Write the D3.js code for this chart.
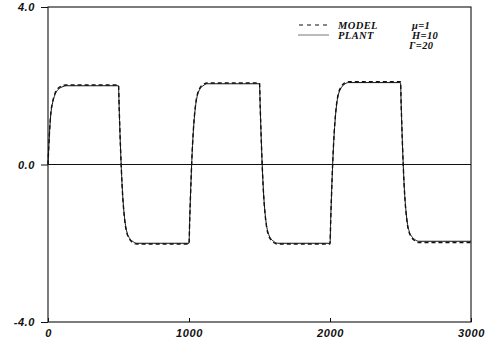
<!DOCTYPE html>
<html>
<head>
<meta charset="utf-8">
<script src="https://cdn.jsdelivr.net/npm/d3@7"></script>
<style>
  html, body { margin: 0; padding: 0; background: #fff; }
  svg { display: block; }
  .tick-label { font-family: "Liberation Sans", Arial, sans-serif; font-weight: bold; font-style: italic; font-size: 11px; fill: #111; letter-spacing: 0.6px; }
  .leg { font-family: "Liberation Serif", "Times New Roman", serif; font-weight: bold; font-style: italic; font-size: 10.5px; fill: #111; letter-spacing: 0.4px; }
</style>
</head>
<body>
<script>
// ---- data ----
const times = [
  0, 5, 10, 15, 20, 30, 40, 50, 60, 80, 100, 130, 300,
  500, 505, 510, 515, 520, 530, 540, 550, 560, 580, 600, 630, 800,
  1000, 1005, 1010, 1015, 1020, 1030, 1040, 1050, 1060, 1080, 1100, 1130, 1300,
  1500, 1505, 1510, 1515, 1520, 1530, 1540, 1550, 1560, 1580, 1600, 1630, 1800,
  2000, 2005, 2010, 2015, 2020, 2030, 2040, 2050, 2060, 2080, 2100, 2130, 2300,
  2500, 2505, 2510, 2515, 2520, 2530, 2540, 2550, 2560, 2580, 2600, 2630, 2800,
  3000
];
const plant = [
  0, 0.40, 0.75, 1.05, 1.28, 1.52, 1.67, 1.78, 1.85, 1.93, 1.97, 2.00, 2.00,
  2.00, 1.40, 0.85, 0.35, -0.10, -0.80, -1.25, -1.55, -1.72, -1.88, -1.95, -2.00, -2.00,
  -2.00, -1.40, -0.85, -0.35, 0.10, 0.80, 1.27, 1.58, 1.76, 1.93, 2.00, 2.05, 2.05,
  2.05, 1.45, 0.90, 0.38, -0.08, -0.80, -1.25, -1.55, -1.72, -1.88, -1.95, -2.00, -2.00,
  -2.00, -1.40, -0.85, -0.35, 0.10, 0.80, 1.28, 1.60, 1.78, 1.95, 2.03, 2.08, 2.08,
  2.08, 1.48, 0.92, 0.40, -0.06, -0.78, -1.22, -1.52, -1.68, -1.83, -1.90, -1.95, -1.95,
  -1.95
];
const model = [
  0, 0.42, 0.78, 1.08, 1.31, 1.55, 1.70, 1.81, 1.88, 1.96, 2.00, 2.02, 2.02,
  2.02, 1.42, 0.86, 0.35, -0.11, -0.82, -1.28, -1.58, -1.75, -1.91, -1.98, -2.02, -2.02,
  -2.02, -1.42, -0.86, -0.35, 0.11, 0.82, 1.30, 1.61, 1.79, 1.96, 2.03, 2.07, 2.07,
  2.07, 1.46, 0.91, 0.38, -0.09, -0.82, -1.28, -1.58, -1.75, -1.91, -1.98, -2.02, -2.02,
  -2.02, -1.42, -0.86, -0.35, 0.11, 0.82, 1.31, 1.63, 1.81, 1.98, 2.06, 2.10, 2.10,
  2.10, 1.49, 0.93, 0.40, -0.07, -0.80, -1.25, -1.55, -1.71, -1.86, -1.93, -1.98, -1.98,
  -1.98
];
const xTicks = [0, 1000, 2000, 3000];
const xTickLabels = ["0", "1000", "2000", "3000"];
const yTicks = [-4, 0, 4];
const yTickLabels = ["-4.0", "0.0", "4.0"];
const legendLabels = ["MODEL", "PLANT"];
const paramLabels = ["\u03bc=1", "H=10", "\u0393=20"];

// ---- chart ----
const W = 495, H = 344;
const svg = d3.select("body").append("svg").attr("width", W).attr("height", H);
const x = d3.scaleLinear().domain([0, 3000]).range([48, 471]);
const y = d3.scaleLinear().domain([-4, 4]).range([322, 7]);
const ink = "#111";

// frame
svg.append("rect")
  .attr("x", x(0)).attr("y", y(4))
  .attr("width", x(3000) - x(0)).attr("height", y(-4) - y(4))
  .attr("fill", "none").attr("stroke", ink).attr("stroke-width", 1.1);

// zero line
svg.append("line")
  .attr("x1", x(0)).attr("x2", x(3000))
  .attr("y1", y(0)).attr("y2", y(0))
  .attr("stroke", ink).attr("stroke-width", 1);

// y axis
const yAxis = d3.axisLeft(y).tickValues(yTicks).tickSize(7)
  .tickFormat((d, i) => yTickLabels[i]).tickPadding(6);
const gy = svg.append("g").attr("transform", `translate(${x(0)},0)`).call(yAxis);
gy.select(".domain").remove();
gy.selectAll(".tick line").attr("stroke", ink);
gy.selectAll(".tick text").attr("class", "tick-label").attr("fill", ink);

// x axis (ticks pointing inward)
const xAxis = d3.axisBottom(x).tickValues(xTicks).tickSizeInner(-4).tickSizeOuter(0)
  .tickFormat((d, i) => xTickLabels[i]).tickPadding(14);
const gx = svg.append("g").attr("transform", `translate(0,${y(-4)})`).call(xAxis);
gx.select(".domain").remove();
gx.selectAll(".tick line").attr("stroke", ink);
gx.selectAll(".tick text").attr("class", "tick-label").attr("fill", ink).attr("dy", "0.35em").attr("y", 11);

// lines
const pts = (vals) => times.map((t, i) => [t, vals[i]]);
const line = d3.line().x(d => x(d[0])).y(d => y(d[1])).curve(d3.curveMonotoneX);

svg.append("path").datum(pts(plant))
  .attr("d", line).attr("fill", "none")
  .attr("stroke", ink).attr("stroke-width", 1);
svg.append("path").datum(pts(model))
  .attr("d", line).attr("fill", "none")
  .attr("stroke", ink).attr("stroke-width", 1.4)
  .attr("stroke-dasharray", "4,3");

// legend
const leg = svg.append("g");
const legY = [25, 35];
leg.append("line").attr("x1", 299).attr("x2", 330).attr("y1", legY[0]).attr("y2", legY[0])
  .attr("stroke", ink).attr("stroke-width", 1.2).attr("stroke-dasharray", "4,4");
leg.append("line").attr("x1", 298).attr("x2", 329).attr("y1", legY[1]).attr("y2", legY[1])
  .attr("stroke", "#777").attr("stroke-width", 1);
legendLabels.forEach((t, i) => {
  leg.append("text").attr("class", "leg").attr("x", 338).attr("y", legY[i] + 3.5).text(t);
});
const px = [412, 412, 409];
const py = [28.5, 38.5, 48.5];
paramLabels.forEach((t, i) => {
  leg.append("text").attr("class", "leg").attr("x", px[i]).attr("y", py[i]).text(t);
});
</script>
</body>
</html>
